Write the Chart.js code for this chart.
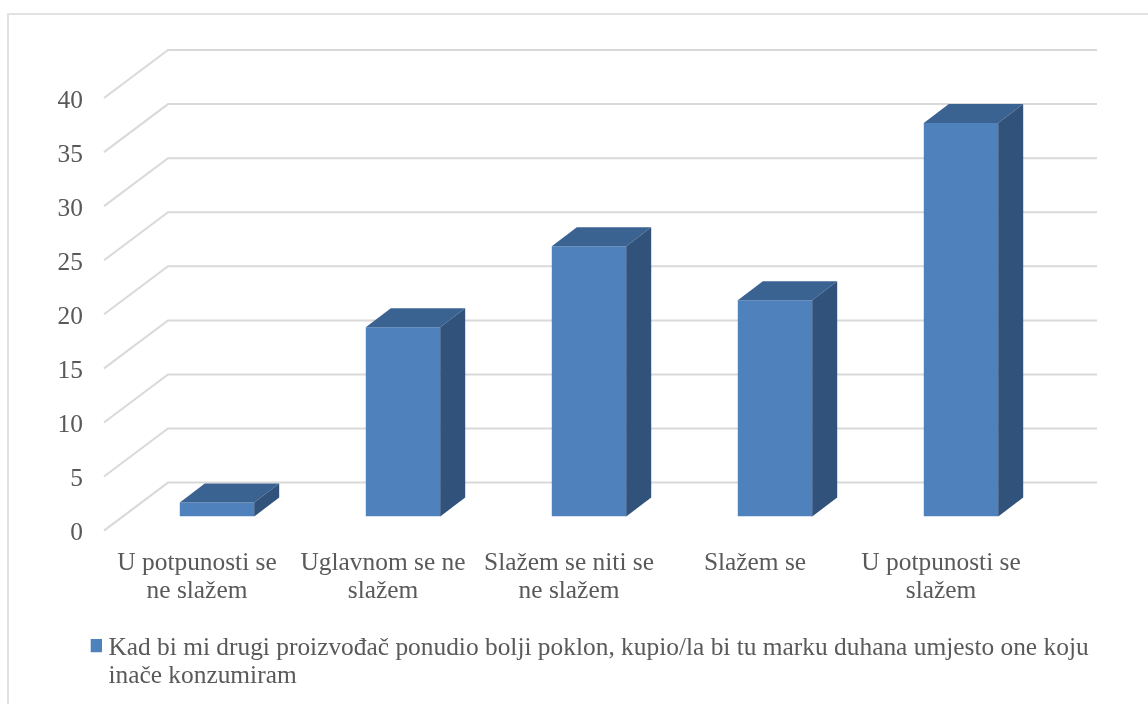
<!DOCTYPE html>
<html>
<head>
<meta charset="utf-8">
<style>
  html, body { margin: 0; padding: 0; background: #fff; }
  #wrap { position: relative; width: 1148px; height: 704px; overflow: hidden; }
  #frame { position: absolute; left: 7px; top: 13px; width: 1200px; height: 760px; border: 2px solid #e2e2e2; }
  canvas { position: absolute; left: 0; top: 0; }
</style>
<script src="https://cdn.jsdelivr.net/npm/chart.js@4/dist/chart.umd.min.js"></script>
</head>
<body>
<div id="wrap">
  <div id="frame"></div>
  <canvas id="chart" width="1148" height="704"></canvas>
</div>
<script>
// Data
const categories = [
  ["U potpunosti se", "ne slažem"],
  ["Uglavnom se ne", "slažem"],
  ["Slažem se niti se", "ne slažem"],
  ["Slažem se"],
  ["U potpunosti se", "slažem"]
];
const values = [1.3, 17.5, 25, 20, 36.4];
const yTicks = [0, 5, 10, 15, 20, 25, 30, 35, 40];
const seriesLabel = [
  "Kad bi mi drugi proizvođač ponudio bolji poklon, kupio/la bi tu marku duhana umjesto one koju",
  "inače konzumiram"
];

const TEXT = "#595959";
const FRONT = "#4f81bd";
const TOP = "#3b6391";
const SIDE = "#30527b";
const labelFont = { family: "'Liberation Serif', serif", size: 25.4, lineHeight: "28px" };

// Fake 3D: the scale sits mid depth, walls and bar depth are offset from it
const wall = { frontX: -20, frontY: 14, backX: 44, backY: -34, right: 43 };
const bar3d = { dx: 25, dy: 19 };

// Legend square as a small canvas: it is drawn centred, so the spare
// rows at the bottom lift the square up next to the first text line
function legendSquare() {
  const c = document.createElement("canvas");
  c.width = 13;
  c.height = 19;
  const g = c.getContext("2d");
  g.fillStyle = FRONT;
  g.fillRect(0, 0, 13, 13);
  return c;
}

const fake3d = {
  id: "fake3d",
  afterUpdate(chart) {
    // two line legend: the plugin measures one line, so give it the room by hand
    const lg = chart.legend;
    lg.left = 90.7;
    lg.right = 1148;
    lg.top = 631;
    lg.bottom = 704;
    lg.width = lg.right - lg.left;
    lg.height = lg.bottom - lg.top;
    lg.options.align = "start";
  },
  beforeDatasetsDraw(chart) {
    const { ctx, chartArea, scales } = chart;
    ctx.save();
    ctx.strokeStyle = "#d9d9d9";
    ctx.lineWidth = 2;
    yTicks.forEach(t => {
      const y = scales.y.getPixelForValue(t);
      ctx.beginPath();
      ctx.moveTo(chartArea.left + wall.frontX, y + wall.frontY);
      ctx.lineTo(chartArea.left + wall.backX, y + wall.backY);
      ctx.lineTo(chartArea.right + wall.right, y + wall.backY);
      ctx.stroke();
    });
    ctx.restore();
  },
  afterDatasetsDraw(chart) {
    const { ctx } = chart;
    ctx.save();
    chart.getDatasetMeta(0).data.forEach(b => {
      const l = b.x - b.width / 2, r = b.x + b.width / 2;
      // top face
      ctx.fillStyle = TOP;
      ctx.beginPath();
      ctx.moveTo(l, b.y);
      ctx.lineTo(l + bar3d.dx, b.y - bar3d.dy);
      ctx.lineTo(r + bar3d.dx, b.y - bar3d.dy);
      ctx.lineTo(r, b.y);
      ctx.closePath();
      ctx.fill();
      // side face
      ctx.fillStyle = SIDE;
      ctx.beginPath();
      ctx.moveTo(r, b.y);
      ctx.lineTo(r + bar3d.dx, b.y - bar3d.dy);
      ctx.lineTo(r + bar3d.dx, b.base - bar3d.dy);
      ctx.lineTo(r, b.base);
      ctx.closePath();
      ctx.fill();
    });
    ctx.restore();
  }
};

new Chart(document.getElementById("chart"), {
  type: "bar",
  data: {
    labels: categories,
    datasets: [{ label: seriesLabel, data: values, backgroundColor: FRONT, barPercentage: 0.4, categoryPercentage: 1 }]
  },
  plugins: [fake3d],
  options: {
    responsive: false,
    animation: false,
    layout: { padding: { top: 84, right: 94, left: 0, bottom: 37 } },
    plugins: {
      tooltip: { enabled: false },
      legend: {
        position: "bottom",
        labels: {
          color: TEXT,
          font: labelFont,
          usePointStyle: true,
          boxWidth: 0.01,
          boxHeight: 13,
          padding: 5,
          generateLabels: () => [{ text: seriesLabel, fillStyle: FRONT, strokeStyle: FRONT, fontColor: TEXT, lineWidth: 0, pointStyle: legendSquare(), datasetIndex: 0 }]
        }
      }
    },
    scales: {
      x: {
        grid: { display: false, drawTicks: false },
        border: { display: false },
        afterFit(s) { s.height = 110; },
        ticks: {
          color: TEXT,
          font: labelFont,
          padding: 33,
          labelOffset: -20,
          maxRotation: 0,
          autoSkip: false
        }
      },
      y: {
        min: 0,
        max: 40,
        grid: { display: false, drawTicks: false },
        border: { display: false },
        afterFit(s) { s.width = 124; },
        afterBuildTicks(s) { s.ticks = yTicks.map(v => ({ value: v })); },
        ticks: {
          color: TEXT,
          font: labelFont,
          padding: 41,
          labelOffset: 17
        }
      }
    }
  }
});
</script>
</body>
</html>
